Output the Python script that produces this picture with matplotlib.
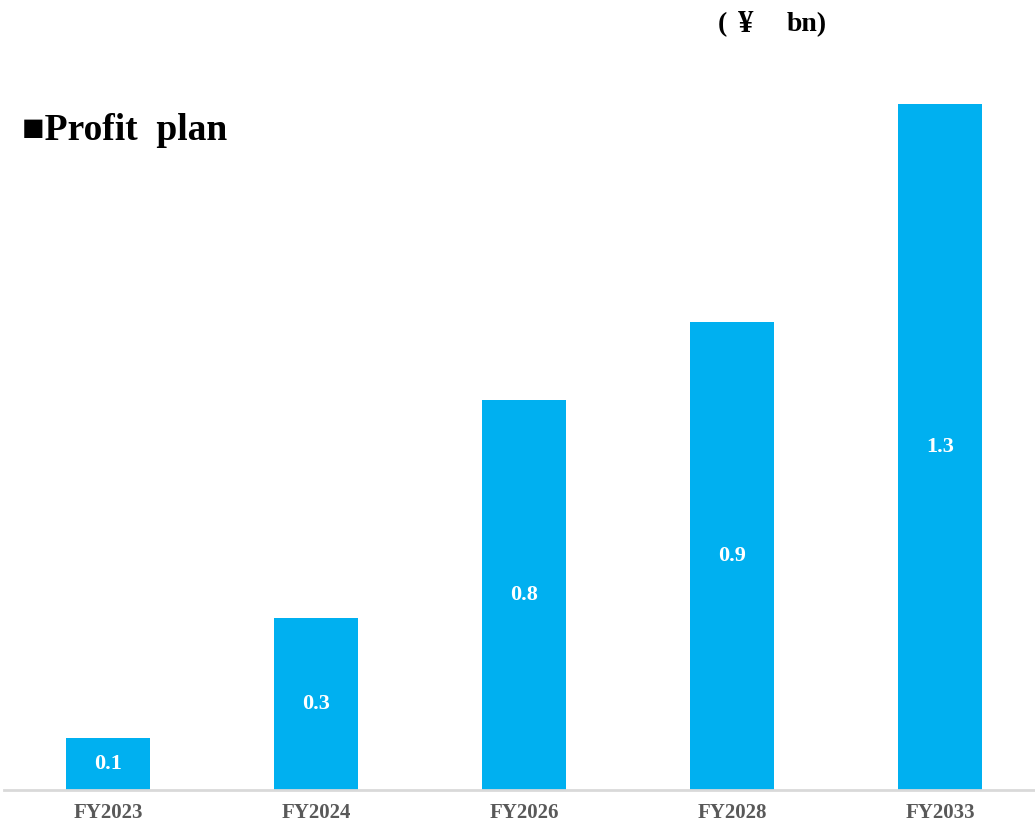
import matplotlib.pyplot as plt

years = ["FY2023", "FY2024", "FY2026", "FY2028", "FY2033"]
profit = [0.1, 0.33, 0.75, 0.9, 1.32]
labels = ["0.1", "0.3", "0.8", "0.9", "1.3"]

plt.rcParams["font.family"] = ["Liberation Serif", "DejaVu Serif"]

fig = plt.figure(figsize=(10.35, 8.24), dpi=100)
ax = fig.add_axes([4 / 1035, 34 / 824, 1040 / 1035, 750 / 824])

x = range(len(years))
bars = ax.bar(x, profit, width=0.4, color="#00B0F0", zorder=2)
for b, lab in zip(bars, labels):
    ax.text(b.get_x() + b.get_width() / 2, b.get_height() / 2, lab,
            ha="center", va="center", color="white", fontsize=16, fontweight="bold")

ax.set_xlim(-0.5, 4.5)
ax.set_ylim(0, 750 / 520)
ax.set_xticks(list(x))
ax.set_xticklabels(years, fontsize=15, fontweight="bold", color="#595959")
ax.tick_params(axis="x", length=0, pad=9)
ax.set_yticks([])
for s in ["top", "right", "left"]:
    ax.spines[s].set_visible(False)
ax.spines["bottom"].set_color("#D9D9D9")
ax.spines["bottom"].set_linewidth(2)

fig.text(22 / 1035, 1 - 130 / 824, "■Profit  plan", fontsize=27, fontweight="bold",
         va="center", ha="left")
# unit label, placed piece by piece to mimic the full-width yen sign spacing
fig.text(718 / 1035, 1 - 25 / 824, "(", fontsize=20, fontweight="bold",
         va="center", ha="left")
fig.text(746 / 1035, 1 - 25 / 824, "¥", fontsize=22, fontweight="bold",
         va="center", ha="center")
fig.text(787 / 1035, 1 - 25 / 824, "bn)", fontsize=20, fontweight="bold",
         va="center", ha="left")

fig.savefig("out.png", dpi=100)
